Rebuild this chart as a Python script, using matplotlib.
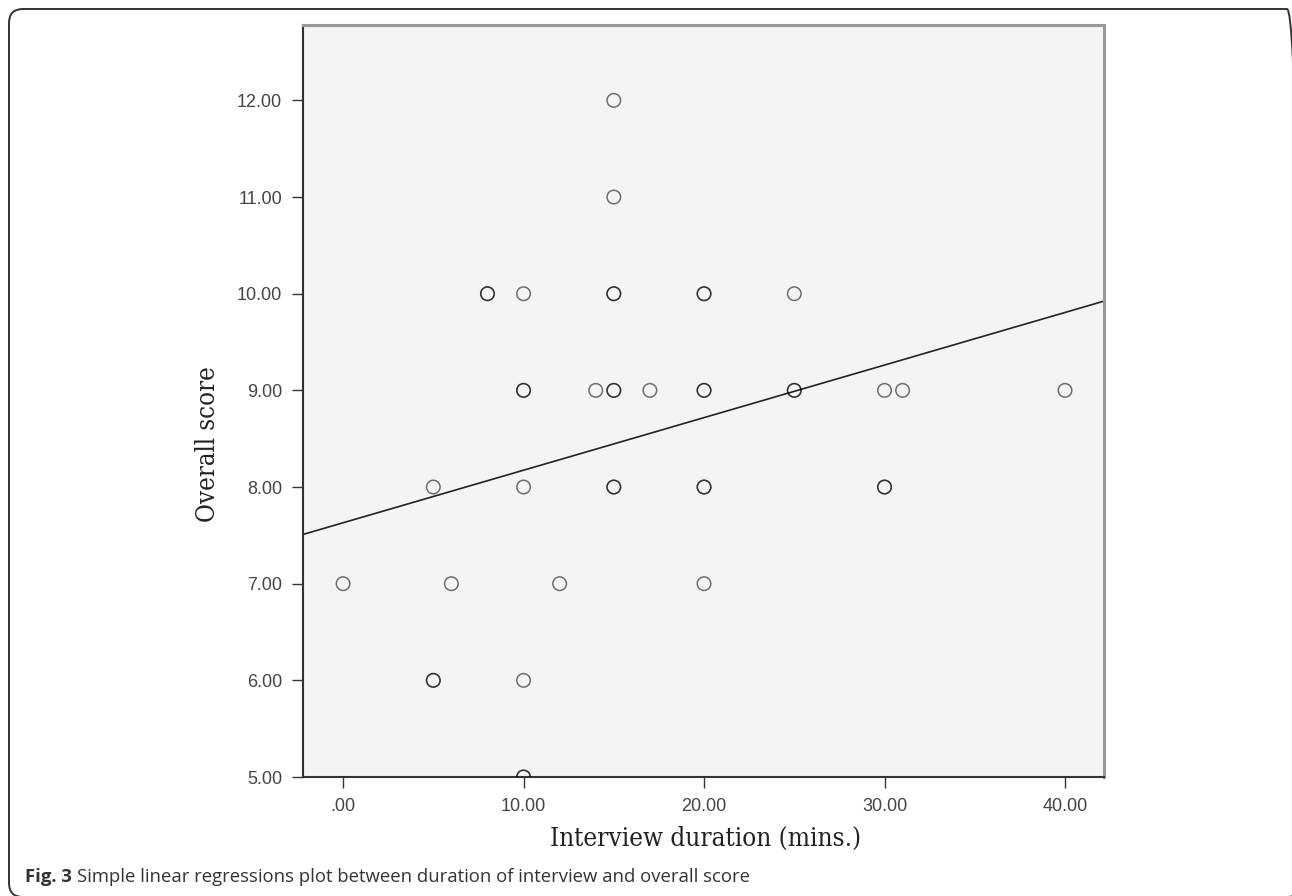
import numpy as np
import matplotlib
matplotlib.use("Agg")
import matplotlib.pyplot as plt
from matplotlib.patches import FancyBboxPatch

# interview duration (mins) / overall score, one entry per drawn circle
duration = [0, 5, 5, 5, 6, 8, 8, 10, 10, 10, 10, 10, 10, 10, 12, 14,
            15, 15, 15, 15, 15, 15, 15, 15, 17,
            20, 20, 20, 20, 20, 20, 20, 25, 25, 25, 30, 30, 30, 31, 40]
score = [7, 8, 6, 6, 7, 10, 10, 10, 9, 9, 8, 6, 5, 5, 7, 9,
         12, 11, 10, 10, 9, 9, 8, 8, 9,
         10, 10, 9, 9, 8, 8, 7, 10, 9, 9, 9, 8, 8, 9, 9]

# fitted line
intercept = 7.63
slope = 0.0544

xticks = [0, 10, 20, 30, 40]
xticklabels = [".00", "10.00", "20.00", "30.00", "40.00"]
yticks = [5, 6, 7, 8, 9, 10, 11, 12]
yticklabels = ["%.2f" % v for v in yticks]

W, H = 1292, 896
fig = plt.figure(figsize=(W / 100, H / 100), dpi=100)
ax = fig.add_axes([303 / W, 1 - 777 / H, (1104 - 303) / W, (777 - 25) / H])
ax.set_facecolor("#f4f4f4")

xlim = (-2.22, 42.16)
ylim = (5.0, 12.78)
ax.set_xlim(*xlim)
ax.set_ylim(*ylim)

ax.scatter(duration, score, s=95, facecolors="none",
           edgecolors=(0, 0, 0, 0.55), linewidths=1.1, zorder=3)

xx = np.array(xlim)
ax.plot(xx, intercept + slope * xx, color="#222222", lw=1.2, zorder=2)

ax.set_xticks(xticks)
ax.set_xticklabels(xticklabels)
ax.set_yticks(yticks)
ax.set_yticklabels(yticklabels)
ax.tick_params(direction="out", length=8, width=1.0, color="#333333",
               labelsize=13, labelcolor="#444444", pad=7)
for lab in ax.get_xticklabels() + ax.get_yticklabels():
    lab.set_family("Liberation Sans")

for side in ["left", "bottom"]:
    ax.spines[side].set_color("#333333")
    ax.spines[side].set_linewidth(1.5)
for side in ["top", "right"]:
    ax.spines[side].set_color("#999999")
    ax.spines[side].set_linewidth(2.2)

ax.set_xlabel("Interview duration (mins.)", family="DejaVu Serif",
              fontstretch="condensed", fontsize=18.7, color="#222222")
ax.set_ylabel("Overall score", family="DejaVu Serif",
              fontstretch="condensed", fontsize=18.5, color="#222222")
ax.xaxis.set_label_coords(0.502, -(838 - 777) / (777 - 25), transform=ax.transAxes)
ax.xaxis.label.set_va("center")
ax.yaxis.set_label_coords(-(303 - 208) / (1104 - 303), 1 - (444 - 25) / (777 - 25))
ax.yaxis.label.set_va("center")

# rounded frame around the figure (pixel coordinates)
frame = FancyBboxPatch((9, -1), 1292, 888, boxstyle="round,pad=0,rounding_size=14",
                       transform=None, fill=False, edgecolor="#333333", lw=1.4,
                       clip_on=False)
fig.patches.append(frame)

# caption
fig.canvas.draw()
cap_y = 1 - 882 / H
t1 = fig.text(25 / W, cap_y, "Fig. 3", family="Open Sans", weight="bold",
              fontsize=13.3, color="#333333", va="baseline")
fig.canvas.draw()
bb = t1.get_window_extent()
fig.text((bb.x1 + 5) / W, cap_y,
         "Simple linear regressions plot between duration of interview and overall score",
         family="Open Sans", fontsize=13.3, color="#333333", va="baseline")

fig.savefig("out.png", dpi=100)
